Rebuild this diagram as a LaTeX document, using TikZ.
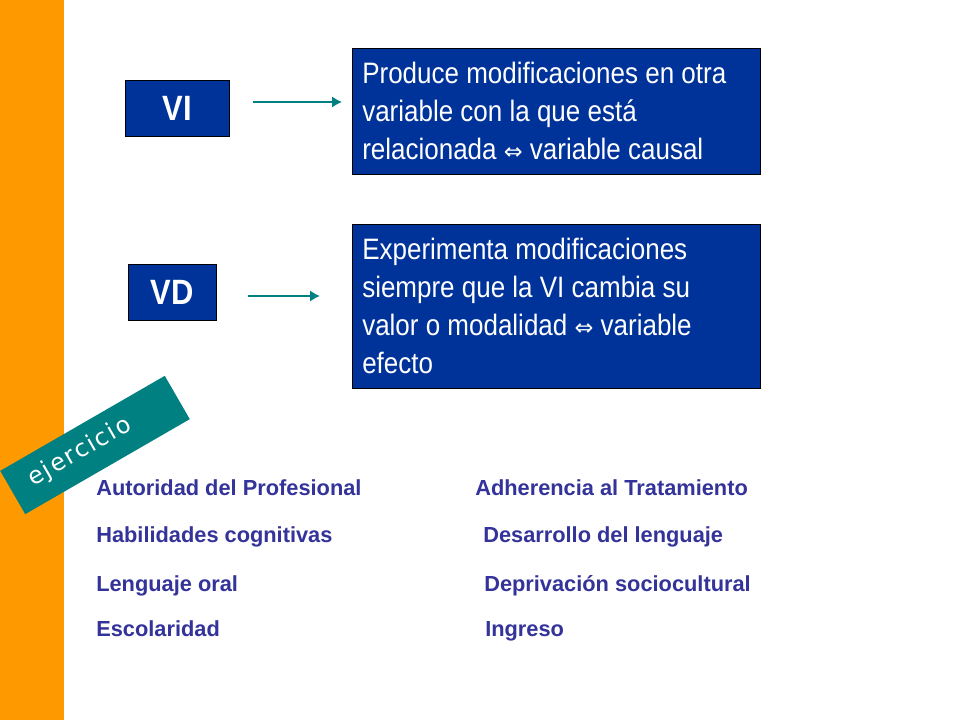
\documentclass[tikz,border=0pt]{standalone}
\usepackage{fontspec}
\usetikzlibrary{arrows.meta}
\setmainfont{Liberation Sans}
\newfontfamily\narrowf[FakeStretch=0.88]{Liberation Sans}
\newfontfamily\dejavu{DejaVu Sans}
\newfontfamily\ejf[LetterSpace=8]{DejaVu Sans}
\definecolor{boxblue}{RGB}{0,51,153}
\definecolor{teal2}{RGB}{0,128,128}
\definecolor{orng}{RGB}{255,153,0}
\definecolor{itemblue}{RGB}{51,51,153}
\begin{document}
\begin{tikzpicture}[x=0.025cm,y=-0.025cm,
  bx/.style={fill=boxblue,draw=black,line width=0.6pt},
  tbox/.style={anchor=north west,text=white,align=left,font=\narrowf\fontsize{21}{27}\selectfont,inner sep=0pt},
  arr/.style={-{Latex[length=7pt,width=8pt]},draw=teal2,line width=2pt},
  item/.style={anchor=base west,text=itemblue,font=\bfseries\fontsize{15.5}{17}\selectfont,inner sep=0pt},
  lab/.style={bx,text=white,font=\narrowf\bfseries\fontsize{25}{26}\selectfont}]
\useasboundingbox (0,0) rectangle (960,720);
\fill[white] (0,0) rectangle (960,720);
\fill[orng] (0,0) rectangle (64,720);
\node[lab,minimum width=104*0.025cm,minimum height=56*0.025cm] (vi) at (177,108) {VI};
\node[lab,minimum width=88*0.025cm,minimum height=56*0.025cm] (vd) at (172,292) {VD};
\node[bx,minimum width=408*0.025cm,minimum height=126*0.025cm] (b1) at (556,111) {};
\node[bx,minimum width=408*0.025cm,minimum height=164*0.025cm] (b2) at (556,306) {};
\node[tbox] (t1) at (362,62) {Produce modificaciones en otra\\variable con la que está\\relacionada {\dejavu\fontsize{16}{27}\selectfont ⇔} variable causal};
\node[tbox] (t2) at (362,238) {Experimenta modificaciones\\siempre que la VI cambia su\\valor o modalidad {\dejavu\fontsize{16}{27}\selectfont ⇔} variable\\efecto};
\coordinate (a1) at (342,102);
\coordinate (a2) at (320,296);
\coordinate (s1) at (253,102);
\coordinate (s2) at (248,296);
\draw[arr] (s1) -- (a1);
\draw[arr] (s2) -- (a2);
\node[rotate=30,fill=teal2,minimum width=190*0.025cm,minimum height=50*0.025cm] (ej) at (95,445) {};
\node[rotate=30,text=white,font=\ejf\fontsize{17}{17}\selectfont] (ejt) at (80,452) {ejercicio};
\node[item] (i1) at (96,496) {Autoridad del Profesional};
\node[item] (i2) at (96,543) {Habilidades cognitivas};
\node[item] (i3) at (96,591) {Lenguaje oral};
\node[item] (i4) at (96,636) {Escolaridad};
\node[item] (j1) at (475,496) {Adherencia al Tratamiento};
\node[item] (j2) at (483,543) {Desarrollo del lenguaje};
\node[item] (j3) at (484,591) {Deprivación sociocultural};
\node[item] (j4) at (485,636) {Ingreso};
\end{tikzpicture}
\end{document}
